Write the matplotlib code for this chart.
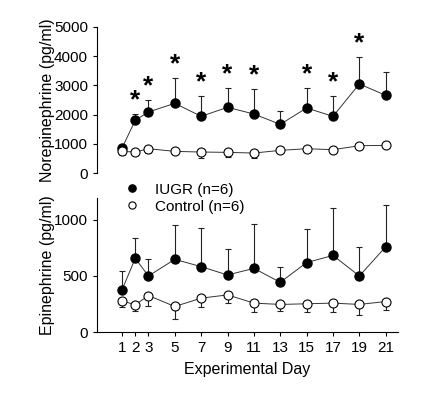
import numpy as np
import matplotlib.pyplot as plt

plt.rcParams['font.family'] = ['Liberation Sans', 'DejaVu Sans']

days = [1, 2, 3, 5, 7, 9, 11, 13, 15, 17, 19, 21]

# norepinephrine (pg/ml)
ne_iugr = [856, 1804, 2089, 2386, 1941, 2249, 2020, 1667, 2226, 1941, 3048, 2660]
ne_iugr_err = [60, 200, 420, 880, 685, 660, 860, 470, 690, 685, 925, 800]
ne_ctrl = [742, 719, 833, 742, 719, 708, 685, 776, 833, 799, 936, 947]
ne_ctrl_err = [120, 110, 150, 100, 200, 150, 160, 100, 110, 120, 90, 100]
star_days = [2, 3, 5, 7, 9, 11, 15, 17, 19]

# epinephrine (pg/ml)
epi_iugr = [375, 655, 498, 646, 581, 507, 566, 442, 617, 681, 498, 758]
epi_iugr_err = [168, 177, 148, 304, 348, 228, 390, 139, 295, 425, 260, 369]
epi_ctrl = [277, 242, 324, 227, 301, 330, 257, 245, 251, 257, 245, 271]
epi_ctrl_err = [59, 59, 91, 112, 83, 73, 83, 56, 77, 83, 98, 73]

fig = plt.figure(figsize=(4.42, 3.96), dpi=100)
ax1 = fig.add_axes([0.2195, 0.563, 0.68, 0.369])
ax2 = fig.add_axes([0.2195, 0.1616, 0.68, 0.338])

def panel(ax, iugr, iugr_err, ctrl, ctrl_err, ms):
    ax.errorbar(days, iugr, yerr=[np.zeros(len(iugr)), iugr_err], fmt='none',
                ecolor='#222222', elinewidth=0.8, capsize=2, capthick=0.8, zorder=1)
    ax.errorbar(days, ctrl, yerr=[ctrl_err, np.zeros(len(ctrl))], fmt='none',
                ecolor='#222222', elinewidth=0.8, capsize=2, capthick=0.8, zorder=1)
    ax.plot(days, iugr, '-', color='#333333', lw=0.7, zorder=2)
    ax.plot(days, ctrl, '-', color='#333333', lw=0.7, zorder=2)
    h1, = ax.plot(days, iugr, 'o', ms=ms, mfc='black', mec='black', zorder=3)
    h2, = ax.plot(days, ctrl, 'o', ms=ms, mfc='white', mec='black', mew=0.8, zorder=3)
    return h1, h2

panel(ax1, ne_iugr, ne_iugr_err, ne_ctrl, ne_ctrl_err, 6.5)
h1, h2 = panel(ax2, epi_iugr, epi_iugr_err, epi_ctrl, epi_ctrl_err, 6.5)

for d in star_days:
    i = days.index(d)
    ax1.text(d, ne_iugr[i] + ne_iugr_err[i] + 60, '*', ha='center', va='bottom',
             fontsize=19, fontweight='bold')

for ax in (ax1, ax2):
    ax.set_xlim(-0.9, 21.9)
    ax.spines['top'].set_visible(False)
    ax.spines['right'].set_visible(False)
    ax.tick_params(labelsize=11, length=3, width=0.8, direction='out')
    ax.spines['left'].set_linewidth(0.8)
    ax.spines['bottom'].set_linewidth(0.8)

ax1.spines['bottom'].set_visible(False)
ax1.set_xticks([])
ax1.set_ylim(0, 5000)
ax1.set_yticks([0, 1000, 2000, 3000, 4000, 5000])

ax2.set_ylim(0, 1190)
ax2.set_yticks([0, 500, 1000])
ax2.set_xticks(days)
ax2.set_xlabel('Experimental Day', fontsize=11.5, labelpad=5)

# both y labels sit in the same column
fig.text(0.107, 0.7475, 'Norepinephrine (pg/ml)', rotation=90, ha='center',
         va='center', fontsize=11.5)
fig.text(0.107, 0.33, 'Epinephrine (pg/ml)', rotation=90, ha='center',
         va='center', fontsize=11.5)

fig.legend([h1, h2], ['IUGR (n=6)', 'Control (n=6)'], loc='upper left',
           bbox_to_anchor=(0.265, 0.558), frameon=False, fontsize=11,
           markerscale=0.8, handletextpad=1.0, borderpad=0, labelspacing=0.2,
           handlelength=1.0)

fig.savefig('out.png', dpi=100)
